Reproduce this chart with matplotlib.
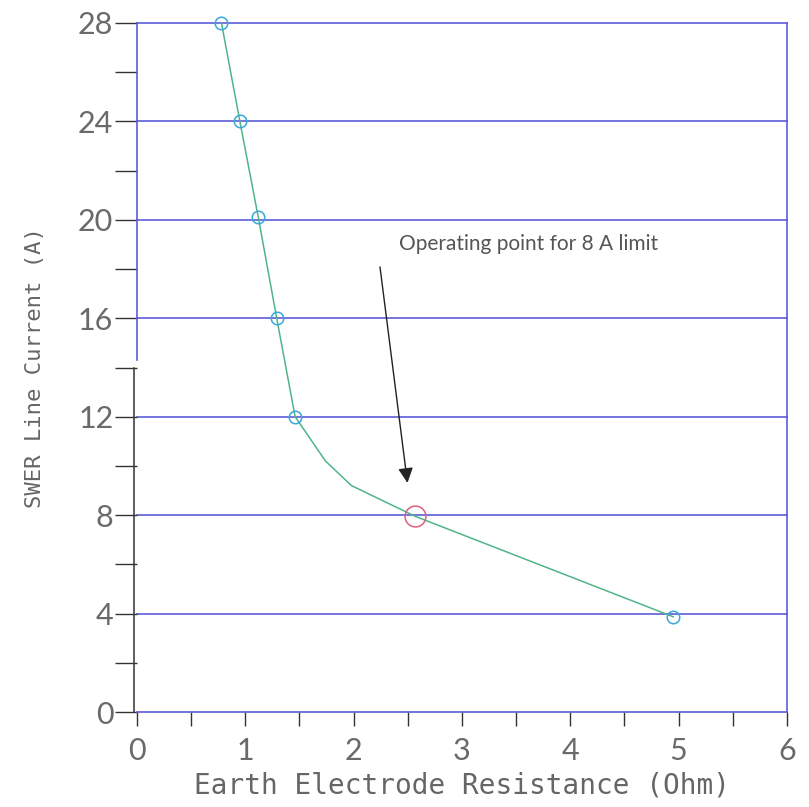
import matplotlib.pyplot as plt
from matplotlib.ticker import MultipleLocator

# curve
resistance = [0.78, 0.95, 1.12, 1.29, 1.46, 1.74, 1.98, 2.57, 4.95]
current = [28.0, 24.0, 20.1, 16.0, 12.0, 10.2, 9.2, 7.95, 3.87]
marked_r = [0.78, 0.95, 1.12, 1.29, 1.46, 4.95]
marked_i = [28.0, 24.0, 20.1, 16.0, 12.0, 3.87]
op_r, op_i = 2.57, 7.95

x_ticks = [0, 1, 2, 3, 4, 5, 6]
y_ticks = [0, 4, 8, 12, 16, 20, 24, 28]

grid_col = "#5c5cd8"
tick_font = dict(family=["Lato", "DejaVu Sans"], color="#6a6a6a")

fig = plt.figure(figsize=(8.09, 8.07), dpi=100)
ax = fig.add_axes([0.1693, 0.1177, 0.8035, 0.8538])

for y in y_ticks[1:]:
    ax.axhline(y, color=grid_col, lw=1.2, zorder=1, clip_on=False)

ax.plot(resistance, current, color="#4fb586", lw=1.1, zorder=2)
ax.plot(marked_r, marked_i, ls="none", marker="o", ms=9, mfc="none",
        mec="#3aa8dc", mew=1.1, zorder=3, clip_on=False)
ax.plot([op_r], [op_i], ls="none", marker="o", ms=15, mfc="none",
        mec="#e0607a", mew=1.1, zorder=3)

ax.annotate("", xy=(2.50, 9.2), xytext=(2.24, 18.2),
            arrowprops=dict(arrowstyle="-|>,head_length=0.9,head_width=0.45",
                            color="#222222", lw=1.0))
ax.text(2.42, 19.0, "Operating point for 8 A limit", fontsize=15,
        family=["Lato", "DejaVu Sans"], color="#555555", va="center")

ax.set_xlim(0, 6)
ax.set_ylim(0, 28)
ax.set_xticks(x_ticks)
ax.set_yticks(y_ticks)
ax.xaxis.set_minor_locator(MultipleLocator(0.5))
ax.yaxis.set_minor_locator(MultipleLocator(2))
ax.set_xticklabels([str(v) for v in x_ticks], fontsize=22, **tick_font)
ax.set_yticklabels([str(v) for v in y_ticks], fontsize=22, **tick_font)
ax.tick_params(axis="y", which="both", direction="out", length=16, width=1,
               color="#333333", pad=1)
ax.tick_params(axis="x", which="both", direction="out", length=10, width=1,
               color="#333333", pad=8)

ax.spines["top"].set_visible(False)
ax.spines["left"].set_visible(False)
ax.spines["right"].set_color(grid_col)
ax.spines["bottom"].set_color(grid_col)
ax.spines["right"].set_linewidth(1.2)
ax.spines["bottom"].set_linewidth(1.2)

# left border: blue on top, black lower part
ax.plot([0, 0], [14.3, 28], color=grid_col, lw=1.2, clip_on=False, zorder=4)
ax.plot([-0.03, -0.03], [0, 14.0], color="#333333", lw=1.1, clip_on=False, zorder=4)

ax.set_xlabel("Earth Electrode Resistance (Ohm)", fontsize=20,
              family="DejaVu Sans Mono", color="#666666", labelpad=5)
ax.set_ylabel("SWER Line Current (A)", fontsize=16,
              family="DejaVu Sans Mono", color="#666666", labelpad=24)

fig.savefig("out.png", dpi=100)
